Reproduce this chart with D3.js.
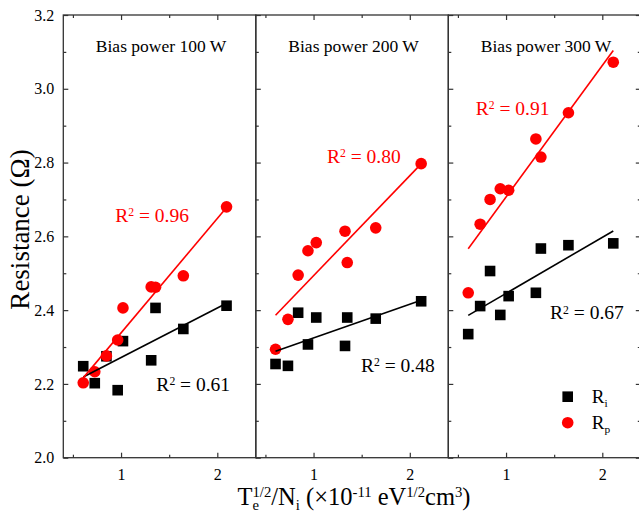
<!DOCTYPE html>
<html>
<head>
<meta charset="utf-8">
<script src="https://cdn.jsdelivr.net/npm/d3@7"></script>
<style>
  body { margin: 0; background: #fff; }
  text { font-family: "Liberation Serif", "Times New Roman", serif; }
</style>
</head>
<body>
<div id="chart"></div>
<script>
// DATA

const panelTitles = ["Bias power 100 W", "Bias power 200 W", "Bias power 300 W"];

// Te^1/2 / Ni for each panel
const xVals = [
  [0.607, 0.727, 0.848, 0.965, 1.02, 1.313, 1.358, 1.647, 2.096],
  [0.605, 0.734, 0.84, 0.942, 1.028, 1.327, 1.35, 1.646, 2.118],
  [0.607, 0.731, 0.834, 0.94, 1.027, 1.31, 1.362, 1.648, 2.114]
];
// R_i (black squares)
const riVals = [
  [2.248, 2.202, 2.275, 2.183, 2.316, 2.264, 2.406, 2.349, 2.412],
  [2.254, 2.249, 2.393, 2.307, 2.380, 2.303, 2.380, 2.377, 2.424],
  [2.335, 2.411, 2.506, 2.387, 2.438, 2.447, 2.567, 2.576, 2.581]
];
// R_p (red circles)
const rpVals = [
  [2.203, 2.233, 2.276, 2.319, 2.406, 2.463, 2.462, 2.493, 2.680],
  [2.294, 2.375, 2.495, 2.561, 2.583, 2.614, 2.529, 2.623, 2.797],
  [2.447, 2.633, 2.700, 2.729, 2.725, 2.864, 2.815, 2.935, 3.072]
];

const r2Ri = ["0.61", "0.48", "0.67"];
const r2Rp = ["0.96", "0.80", "0.91"];

const yMajor = [2.0, 2.2, 2.4, 2.6, 2.8, 3.0, 3.2];
const yMinor = [2.1, 2.3, 2.5, 2.7, 2.9, 3.1];
const xMajor = [1, 2];
const xMinor = [0.5, 1.5];

// where the R^2 labels sit (data units, left end of text / baseline)
const riLabelAt = [[1.367, 2.182], [1.493, 2.233], [1.457, 2.375]];
const rpLabelAt = [[0.94, 2.64], [1.14, 2.798], [0.685, 2.929]];

// SETUP

const W = 639, H = 517;
const mLeft = 63.3, mTop = 15, mBottom = 457.7, panelW = 192.5;
const axisCol = "#333";

const svg = d3.select("#chart").append("svg")
    .attr("width", W)
    .attr("height", H);

const y = d3.scaleLinear().domain([2.0, 3.2]).range([mBottom, mTop]);

// least squares line
function fit(xs, ys) {
  const mx = d3.mean(xs), my = d3.mean(ys);
  let sxy = 0, sxx = 0;
  xs.forEach((v, i) => { sxy += (v - mx) * (ys[i] - my); sxx += (v - mx) * (v - mx); });
  const b = sxy / sxx;
  return v => my + b * (v - mx);
}

// text with sub / superscripts
function rich(sel, parts, fs) {
  let shift = 0, prev = null;
  parts.forEach(([s, kind]) => {
    const target = kind.startsWith("sub") ? fs * 0.22 : kind.startsWith("sup") ? -fs * 0.3 : 0;
    const ts = sel.append("tspan").text(s)
        .attr("dy", target - shift)
        .style("font-size", (kind ? fs * 0.6 : fs) + "px");
    if (kind.endsWith("Stack") && prev) ts.attr("dx", -prev.node().getComputedTextLength());
    shift = target;
    prev = ts;
  });
}

function styleAxis(g) {
  g.select(".domain").remove();
  g.selectAll("line").attr("stroke", axisCol).attr("stroke-width", 1.2);
  g.selectAll("text").style("font-size", "16px").attr("fill", "#000")
    .style("font-family", '"Liberation Serif", serif');
}

// PANELS

panelTitles.forEach((title, i) => {
  const x0 = mLeft + i * panelW;
  const x = d3.scaleLinear().domain([0.4, 2.4]).range([x0, x0 + panelW]);
  const g = svg.append("g");

  // ticks
  g.append("g").attr("transform", `translate(0,${mBottom})`)
    .call(d3.axisBottom(x).tickValues(xMajor).tickSize(-5).tickPadding(11).tickFormat(d3.format("d")))
    .call(styleAxis);
  g.append("g").attr("transform", `translate(0,${mBottom})`)
    .call(d3.axisBottom(x).tickValues(xMinor).tickSize(-3).tickFormat(""))
    .call(styleAxis);
  g.append("g").attr("transform", `translate(0,${mTop})`)
    .call(d3.axisTop(x).tickValues(xMajor).tickSize(-5).tickFormat(""))
    .call(styleAxis);
  g.append("g").attr("transform", `translate(0,${mTop})`)
    .call(d3.axisTop(x).tickValues(xMinor).tickSize(-3).tickFormat(""))
    .call(styleAxis);
  g.append("g").attr("transform", `translate(${x0},0)`)
    .call(d3.axisLeft(y).tickValues(yMajor).tickSize(-5).tickPadding(9)
      .tickFormat(i === 0 ? d3.format(".1f") : ""))
    .call(styleAxis);
  g.append("g").attr("transform", `translate(${x0},0)`)
    .call(d3.axisLeft(y).tickValues(yMinor).tickSize(-3).tickFormat(""))
    .call(styleAxis);
  if (i === panelTitles.length - 1) {
    g.append("g").attr("transform", `translate(${x0 + panelW},0)`)
      .call(d3.axisRight(y).tickValues(yMajor).tickSize(-5).tickFormat(""))
      .call(styleAxis);
    g.append("g").attr("transform", `translate(${x0 + panelW},0)`)
      .call(d3.axisRight(y).tickValues(yMinor).tickSize(-3).tickFormat(""))
      .call(styleAxis);
  }

  // frame
  g.append("rect")
    .attr("x", x0).attr("y", mTop)
    .attr("width", panelW).attr("height", mBottom - mTop)
    .attr("fill", "none").attr("stroke", axisCol).attr("stroke-width", 1.3);

  g.append("text")
    .attr("x", x0 + panelW / 2 + 1.5).attr("y", 51.7)
    .attr("text-anchor", "middle")
    .style("font-size", "17.5px")
    .text(title);

  const xs = xVals[i];
  const ri = xs.map((v, k) => [v, riVals[i][k]]);
  const rp = xs.map((v, k) => [v, rpVals[i][k]]);

  g.selectAll(".sq").data(ri).join("rect")
    .attr("x", d => x(d[0]) - 5.3).attr("y", d => y(d[1]) - 5.3)
    .attr("width", 10.6).attr("height", 10.6)
    .attr("fill", "#000");

  g.selectAll(".dot").data(rp).join("circle")
    .attr("cx", d => x(d[0])).attr("cy", d => y(d[1]))
    .attr("r", 5.8)
    .attr("fill", "#ff0000");

  // fit lines
  const ext = d3.extent(xs);
  const fRi = fit(xs, riVals[i]);
  const fRp = fit(xs, rpVals[i]);
  const line = d3.line().x(d => x(d[0])).y(d => y(d[1]));
  g.append("path").attr("d", line(ext.map(v => [v, fRi(v)])))
    .attr("stroke", "#000").attr("stroke-width", 1.6).attr("fill", "none");
  g.append("path").attr("d", line(ext.map(v => [v, fRp(v)])))
    .attr("stroke", "#ff0000").attr("stroke-width", 1.6).attr("fill", "none");

  // R^2 labels
  rich(g.append("text")
      .attr("x", x(riLabelAt[i][0])).attr("y", y(riLabelAt[i][1]))
      .attr("fill", "#000"),
    [["R", ""], ["2", "sup"], [" = " + r2Ri[i], ""]], 19.5);
  rich(g.append("text")
      .attr("x", x(rpLabelAt[i][0])).attr("y", y(rpLabelAt[i][1]))
      .attr("fill", "#ff0000"),
    [["R", ""], ["2", "sup"], [" = " + r2Rp[i], ""]], 19.5);

  // legend in the last panel
  if (i === panelTitles.length - 1) {
    const lx = 567.7;
    g.append("rect").attr("x", lx - 5.3).attr("y", 396.7 - 5.3)
      .attr("width", 10.6).attr("height", 10.6).attr("fill", "#000");
    g.append("circle").attr("cx", lx).attr("cy", 422.7).attr("r", 5.8).attr("fill", "#ff0000");
    rich(g.append("text").attr("x", 591.7).attr("y", 403.3),
      [["R", ""], ["i", "sub"]], 19);
    rich(g.append("text").attr("x", 591.7).attr("y", 428.7),
      [["R", ""], ["p", "sub"]], 19);
  }
});

// AXIS TITLES

rich(svg.append("text")
    .attr("x", 354).attr("y", 504.5)
    .attr("text-anchor", "middle"),
  [["T", ""], ["e", "sub"], ["1/2", "supStack"], ["/N", ""], ["i", "sub"],
   [" (\u00d710", ""], ["-11", "sup"], [" eV", ""], ["1/2", "sup"], ["cm", ""], ["3", "sup"], [")", ""]], 24.5);

svg.append("text")
    .attr("transform", "translate(28.5,229.5) rotate(-90)")
    .attr("text-anchor", "middle")
    .style("font-size", "27px")
    .text("Resistance (\u03a9)");
</script>
</body>
</html>
